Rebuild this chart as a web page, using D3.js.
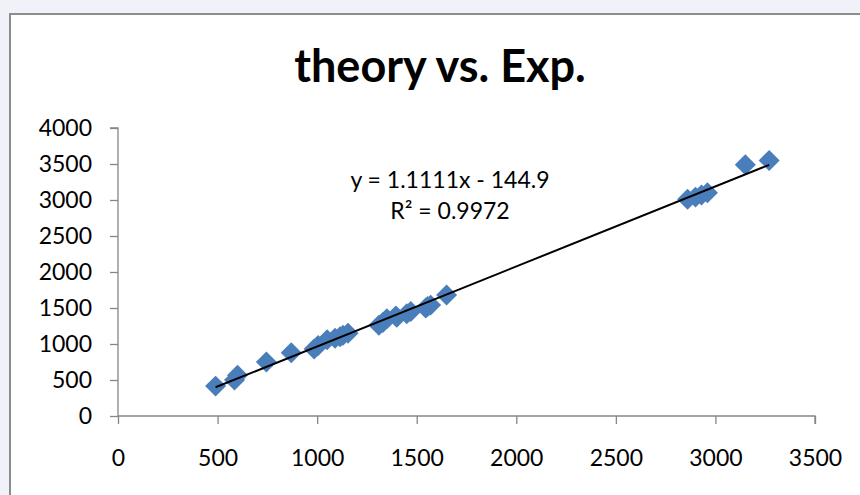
<!DOCTYPE html>
<html>
<head>
<meta charset="utf-8">
<script src="https://cdn.jsdelivr.net/npm/d3@7"></script>
<style>
  html, body { margin: 0; padding: 0; background: #f1f1f9; }
  svg { display: block; }
</style>
</head>
<body>
<script>
// ---- data ----
const xValues = [490, 585, 600, 745, 870, 985, 1005, 1050, 1090, 1115, 1130, 1155,
                 1310, 1330, 1350, 1395, 1400, 1450, 1470, 1545, 1555, 1570, 1650,
                 2860, 2900, 2930, 2960, 3150, 3270];
const yValues = [415, 500, 565, 750, 880, 930, 980, 1060, 1080, 1100, 1120, 1150,
                 1260, 1300, 1350, 1390, 1370, 1420, 1450, 1500, 1520, 1540, 1680,
                 3010, 3040, 3070, 3100, 3490, 3550];
const xTicks = [0, 500, 1000, 1500, 2000, 2500, 3000, 3500];
const yTicks = [0, 500, 1000, 1500, 2000, 2500, 3000, 3500, 4000];
const trendSlope = 1.1111;
const trendIntercept = -144.9;
const titleText = "theory vs. Exp.";
const equationText = "y = 1.1111x - 144.9";
const r2Value = "0.9972";

const W = 860, H = 495;
const svg = d3.select("body").append("svg").attr("width", W).attr("height", H);

// outside background + chart area
svg.append("rect").attr("x", 0).attr("y", 0).attr("width", W).attr("height", H).attr("fill", "#f1f1f9");
svg.append("rect").attr("x", 10).attr("y", 14).attr("width", W).attr("height", H)
  .attr("fill", "#ffffff").attr("stroke", "#8c8c8c").attr("stroke-width", 2);

const x = d3.scaleLinear().domain([0, 3500]).range([118, 815]);
const y = d3.scaleLinear().domain([0, 4000]).range([416, 128]);

const font = "Lato, 'Open Sans', sans-serif";

// axes
const yAxis = svg.append("g").attr("transform", `translate(${x(0)},0)`)
  .call(d3.axisLeft(y).tickValues(yTicks).tickSize(8).tickPadding(18).tickFormat(d3.format("d")));
const xAxis = svg.append("g").attr("transform", `translate(0,${y(0)})`)
  .call(d3.axisBottom(x).tickValues(xTicks).tickSize(8).tickPadding(26).tickFormat(d3.format("d")));
[yAxis, xAxis].forEach(g => {
  g.select(".domain").attr("stroke", "#868686").attr("stroke-width", 1.3);
  g.selectAll(".tick line").attr("stroke", "#868686").attr("stroke-width", 1.3);
  g.selectAll("text").attr("fill", "#000").style("font-family", font).style("font-size", "23px");
});
yAxis.select(".domain").attr("d", `M-8,${y(4000)}H0V${y(0)}`);
xAxis.select(".domain").attr("d", `M${x(0)},0H${x(3500)}V8`);

// points
const pts = xValues.map((v, i) => ({ x: v, y: yValues[i] }));
svg.append("g").selectAll("path").data(pts).join("path")
  .attr("d", d3.symbol(d3.symbolSquare, 220))
  .attr("transform", d => `translate(${x(d.x)},${y(d.y)}) rotate(45)`)
  .attr("fill", "#4a7ebb");

// trend line
const xmin = d3.min(xValues), xmax = d3.max(xValues);
svg.append("line")
  .attr("x1", x(xmin)).attr("y1", y(trendSlope * xmin + trendIntercept))
  .attr("x2", x(xmax)).attr("y2", y(trendSlope * xmax + trendIntercept))
  .attr("stroke", "#000").attr("stroke-width", 2);

// title
svg.append("text").attr("x", 440).attr("y", 82).attr("text-anchor", "middle")
  .style("font-family", font).style("font-weight", "bold").style("font-size", "45px")
  .text(titleText);

// equation
svg.append("text").attr("x", 450).attr("y", 188).attr("text-anchor", "middle")
  .style("font-family", font).style("font-size", "23px").text(equationText);
const r2 = svg.append("text").attr("x", 450).attr("y", 219).attr("text-anchor", "middle")
  .style("font-family", font).style("font-size", "23px");
r2.append("tspan").text("R");
r2.append("tspan").text("²");
r2.append("tspan").text(" = " + r2Value);
</script>
</body>
</html>
